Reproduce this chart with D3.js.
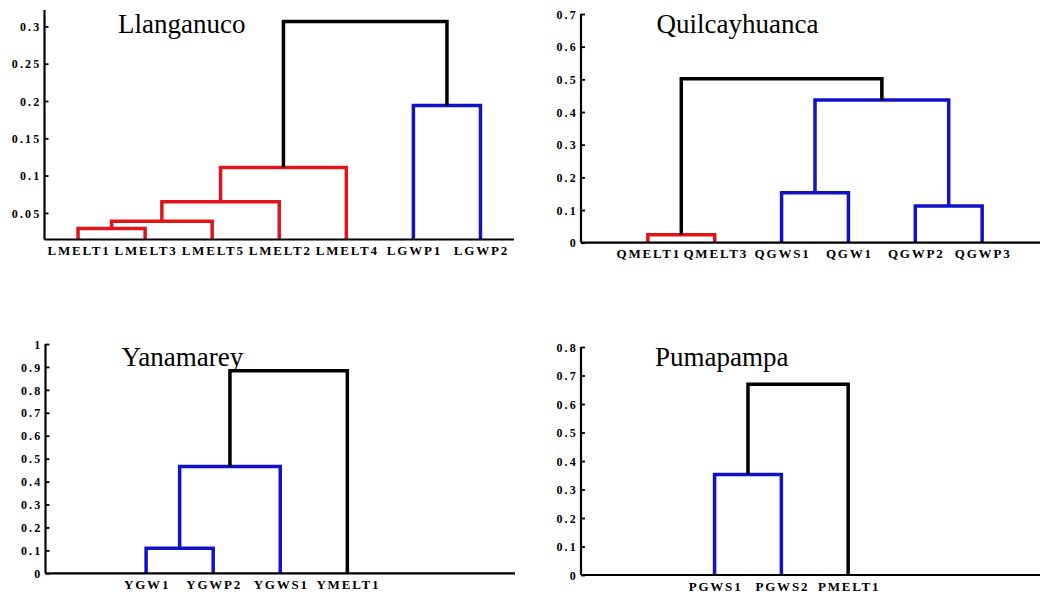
<!DOCTYPE html>
<html>
<head>
<meta charset="utf-8">
<script src="https://cdn.jsdelivr.net/npm/d3@7"></script>
<style>
  html, body { margin: 0; padding: 0; background: #fff; }
  svg { display: block; }
</style>
</head>
<body>
<svg id="chart" width="1040" height="597"></svg>
<script>
// Leaf order (left to right) and linkage rows [childA, childB, height].
// Leaves are numbered 0..n-1, merged clusters n, n+1, ...
const llanganucoLeaves = ["LMELT1", "LMELT3", "LMELT5", "LMELT2", "LMELT4", "LGWP1", "LGWP2"];
const llanganucoLinks = [[0, 1, 0.029], [7, 2, 0.0388], [8, 3, 0.065], [9, 4, 0.111], [5, 6, 0.194], [10, 11, 0.3067]];
const llanganucoColors = ["red", "red", "red", "red", "blue", "black"];
const llanganucoTicks = [0.05, 0.1, 0.15, 0.2, 0.25, 0.3];

const quilcayhuancaLeaves = ["QMELT1", "QMELT3", "QGWS1", "QGW1", "QGWP2", "QGWP3"];
const quilcayhuancaLinks = [[0, 1, 0.024], [2, 3, 0.153], [4, 5, 0.112], [7, 8, 0.437], [6, 9, 0.502]];
const quilcayhuancaColors = ["red", "blue", "blue", "blue", "black"];
const quilcayhuancaTicks = [0, 0.1, 0.2, 0.3, 0.4, 0.5, 0.6, 0.7];

const yanamareyLeaves = ["YGW1", "YGWP2", "YGWS1", "YMELT1"];
const yanamareyLinks = [[0, 1, 0.109], [4, 2, 0.466], [5, 3, 0.883]];
const yanamareyColors = ["blue", "blue", "black"];
const yanamareyTicks = [0, 0.1, 0.2, 0.3, 0.4, 0.5, 0.6, 0.7, 0.8, 0.9, 1];

const pumapampaLeaves = ["PGWS1", "PGWS2", "PMELT1"];
const pumapampaLinks = [[0, 1, 0.353], [3, 2, 0.669]];
const pumapampaColors = ["blue", "black"];
const pumapampaTicks = [0, 0.1, 0.2, 0.3, 0.4, 0.5, 0.6, 0.7, 0.8];

const palette = { red: "#e0141a", blue: "#1212c8", black: "#000000" };

// Panel geometry: axis box in pixels, data domains, position of first leaf
const panels = [
  { title: "Llanganuco", leaves: llanganucoLeaves, links: llanganucoLinks, colors: llanganucoColors,
    ticks: llanganucoTicks, yDomain: [0.0143, 0.322], xDomain: [0.5, 7.5], firstLeaf: 1,
    left: 44.5, right: 514, top: 10, bottom: 239.5, titleX: 118, titleY: 33 },
  { title: "Quilcayhuanca", leaves: quilcayhuancaLeaves, links: quilcayhuancaLinks, colors: quilcayhuancaColors,
    ticks: quilcayhuancaTicks, yDomain: [0, 0.7], xDomain: [0, 7], firstLeaf: 1,
    left: 581, right: 1049, top: 14, bottom: 242.7, titleX: 656.5, titleY: 33.3 },
  { title: "Yanamarey", leaves: yanamareyLeaves, links: yanamareyLinks, colors: yanamareyColors,
    ticks: yanamareyTicks, yDomain: [0, 1], xDomain: [0.5, 7.5], firstLeaf: 2,
    left: 45.5, right: 515, top: 344, bottom: 573.3, titleX: 121.5, titleY: 366 },
  { title: "Pumapampa", leaves: pumapampaLeaves, links: pumapampaLinks, colors: pumapampaColors,
    ticks: pumapampaTicks, yDomain: [0, 0.8], xDomain: [0, 7], firstLeaf: 2,
    left: 581, right: 1048.5, top: 347, bottom: 575, titleX: 655, titleY: 365.5 }
];

const svg = d3.select("#chart");
const serif = "'Liberation Serif', 'Times New Roman', serif";

panels.forEach(p => {
  const x = d3.scaleLinear().domain(p.xDomain).range([p.left, p.right]);
  const y = d3.scaleLinear().domain(p.yDomain).range([p.bottom, p.top]);
  const g = svg.append("g");

  // node positions: leaves first, then each merged cluster
  const nodes = p.leaves.map((name, i) => ({ x: x(p.firstLeaf + i), h: p.yDomain[0] }));
  p.links.forEach(([a, b, h]) => {
    nodes.push({ x: (nodes[a].x + nodes[b].x) / 2, h: h });
  });

  // dendrogram links: up from child A, across, down to child B
  g.selectAll("path.link")
    .data(p.links)
    .join("path")
    .attr("class", "link")
    .attr("fill", "none")
    .attr("stroke", (d, i) => palette[p.colors[i]])
    .attr("stroke-width", 3.5)
    .attr("stroke-linejoin", "miter")
    .attr("d", ([a, b, h]) => {
      const A = nodes[a], B = nodes[b];
      return `M${A.x},${y(A.h)}V${y(h)}H${B.x}V${y(B.h)}`;
    });

  // y axis with inward ticks
  const yAxis = d3.axisRight(y).tickValues(p.ticks).tickSize(4).tickFormat(d3.format("~g"));
  const ya = g.append("g").attr("transform", `translate(${p.left},0)`).call(yAxis);
  ya.select(".domain").remove();
  ya.selectAll(".tick line").attr("stroke", "#000").attr("stroke-width", 1.8);
  ya.selectAll(".tick text")
    .attr("x", -3)
    .attr("dy", "0.35em")
    .attr("text-anchor", "end")
    .attr("font-family", serif)
    .attr("font-weight", "bold")
    .attr("font-size", 12)
    .attr("letter-spacing", 2.2)
    .attr("fill", "#000");

  // axis lines
  g.append("line")
    .attr("x1", p.left).attr("x2", p.left)
    .attr("y1", p.top).attr("y2", p.bottom)
    .attr("stroke", "#000").attr("stroke-width", 2.2);
  g.append("line")
    .attr("x1", p.left).attr("x2", p.right)
    .attr("y1", p.bottom).attr("y2", p.bottom)
    .attr("stroke", "#000").attr("stroke-width", 2.2);

  // leaf labels
  g.selectAll("text.leaf")
    .data(p.leaves)
    .join("text")
    .attr("class", "leaf")
    .attr("x", (d, i) => x(p.firstLeaf + i) + 1)
    .attr("y", p.bottom + 15.5)
    .attr("text-anchor", "middle")
    .attr("font-family", serif)
    .attr("font-weight", "bold")
    .attr("font-size", 13)
    .attr("letter-spacing", 1.8)
    .attr("fill", "#000")
    .text(d => d);

  // panel title
  g.append("text")
    .attr("x", p.titleX)
    .attr("y", p.titleY)
    .attr("font-family", serif)
    .attr("font-size", 27)
    .attr("fill", "#000")
    .text(p.title);
});
</script>
</body>
</html>
